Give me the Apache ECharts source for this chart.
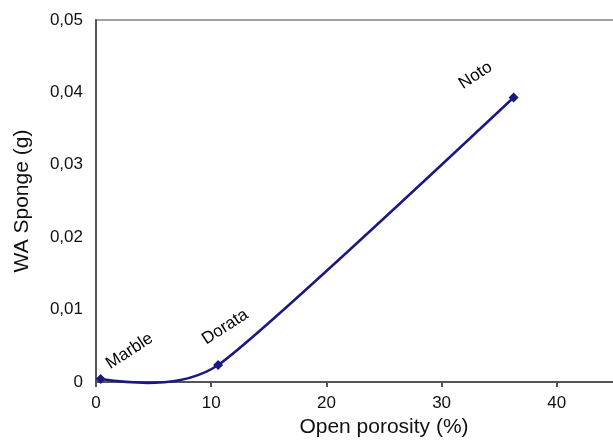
<!DOCTYPE html>
<html>
<head>
<meta charset="utf-8">
<script src="https://cdn.jsdelivr.net/npm/echarts@6/dist/echarts.min.js"></script>
<style>
  html, body { margin: 0; padding: 0; background: #fff; }
  #chart { width: 613px; height: 441px; }
</style>
</head>
<body>
<div id="chart"></div>
<script>
// Stone samples: open porosity (%) vs water absorbed by sponge (g)
const stones = ['Marble', 'Dorata', 'Noto'];
const porosity = [0.4, 10.6, 36.25];
const waSponge = [0.0004, 0.00235, 0.0393];

// Label placement next to each marker (screen pixels, relative to the marker)
const labelOffsets = [[29, -28], [7, -38], [-38, -22]];
const labelAngle = 33;

const lineColor = '#1c1882';
const font = 'Liberation Sans, Arial, sans-serif';

const points = porosity.map((x, i) => [x, waSponge[i]]);

// ECharts applies a label offset in the rotated text frame, so turn the
// screen-space offset back by the label angle.
function localOffset(d, deg) {
  const t = deg * Math.PI / 180, c = Math.cos(t), s = Math.sin(t);
  return [d[0] * c - d[1] * s, d[0] * s + d[1] * c];
}

// Smoothed curve: cubic Bezier segments. Interior points get a tangent
// along (next - prev); the end points aim at the neighbouring control
// point, which lets the curve overshoot slightly like a spreadsheet spline.
const TANGENT = 0.09;
const END_PULL = 0.3;

function buildControls(px) {
  const n = px.length;
  const cin = new Array(n), cout = new Array(n);
  for (let i = 1; i < n - 1; i++) {
    const vx = px[i + 1][0] - px[i - 1][0], vy = px[i + 1][1] - px[i - 1][1];
    cin[i] = [px[i][0] - vx * TANGENT, px[i][1] - vy * TANGENT];
    cout[i] = [px[i][0] + vx * TANGENT, px[i][1] + vy * TANGENT];
  }
  const toward = (p, q) => [p[0] + (q[0] - p[0]) * END_PULL, p[1] + (q[1] - p[1]) * END_PULL];
  if (n > 2) {
    cout[0] = toward(px[0], cin[1]);
    cin[n - 1] = toward(px[n - 1], cout[n - 2]);
  } else {
    cout[0] = px[0];
    cin[n - 1] = px[n - 1];
  }
  return { cin, cout };
}

function renderCurve(params, api) {
  const i = params.dataIndex;
  const n = points.length;
  if (i >= n - 1) return null;
  const px = points.map(p => api.coord(p));
  const c = buildControls(px);
  return {
    type: 'bezierCurve',
    shape: {
      x1: px[i][0], y1: px[i][1],
      cpx1: c.cout[i][0], cpy1: c.cout[i][1],
      cpx2: c.cin[i + 1][0], cpy2: c.cin[i + 1][1],
      x2: px[i + 1][0], y2: px[i + 1][1]
    },
    style: { stroke: lineColor, lineWidth: 2.5, fill: null }
  };
}

const chart = echarts.init(document.getElementById('chart'), null, { renderer: 'canvas' });

chart.setOption({
  animation: false,
  backgroundColor: '#fff',
  grid: {
    left: 96, top: 20, right: -59, bottom: 59,
    outerBoundsMode: 'none',
    containLabel: false,
    show: true, borderColor: '#a0a0a0', borderWidth: 2, backgroundColor: 'transparent'
  },
  xAxis: {
    type: 'value', min: 0, max: 50, interval: 10,
    name: 'Open porosity (%)', nameLocation: 'middle', nameGap: 35,
    nameTextStyle: { fontFamily: font, fontSize: 21, color: '#111' },
    axisLine: { show: true, onZero: false, lineStyle: { color: '#555', width: 2 } },
    axisTick: { show: true, length: 5, lineStyle: { color: '#555', width: 2 } },
    axisLabel: { fontFamily: font, fontSize: 17, color: '#111', margin: 13 },
    splitLine: { show: false }
  },
  yAxis: {
    type: 'value', min: 0, max: 0.05, interval: 0.01,
    name: 'WA Sponge (g)', nameLocation: 'middle', nameGap: 63,
    nameTextStyle: { fontFamily: font, fontSize: 21, color: '#111' },
    axisLine: { show: true, lineStyle: { color: '#555', width: 2 } },
    axisTick: { show: false },
    axisLabel: {
      fontFamily: font, fontSize: 17, color: '#111', margin: 13,
      formatter: v => v === 0 ? '0' : v.toFixed(2).replace('.', ',')
    },
    splitLine: { show: false }
  },
  series: [
    {
      type: 'custom',
      renderItem: renderCurve,
      data: points,
      clip: false,
      z: 2
    },
    {
      type: 'scatter',
      symbol: 'diamond',
      symbolSize: 10,
      itemStyle: { color: lineColor, opacity: 1 },
      z: 3,
      data: points.map((p, i) => ({
        name: stones[i],
        value: p,
        label: {
          show: true,
          formatter: stones[i],
          position: 'inside',
          offset: localOffset(labelOffsets[i], labelAngle),
          rotate: labelAngle,
          align: 'center',
          verticalAlign: 'middle',
          fontFamily: font,
          fontSize: 17,
          color: '#000'
        }
      }))
    }
  ]
});
</script>
</body>
</html>
